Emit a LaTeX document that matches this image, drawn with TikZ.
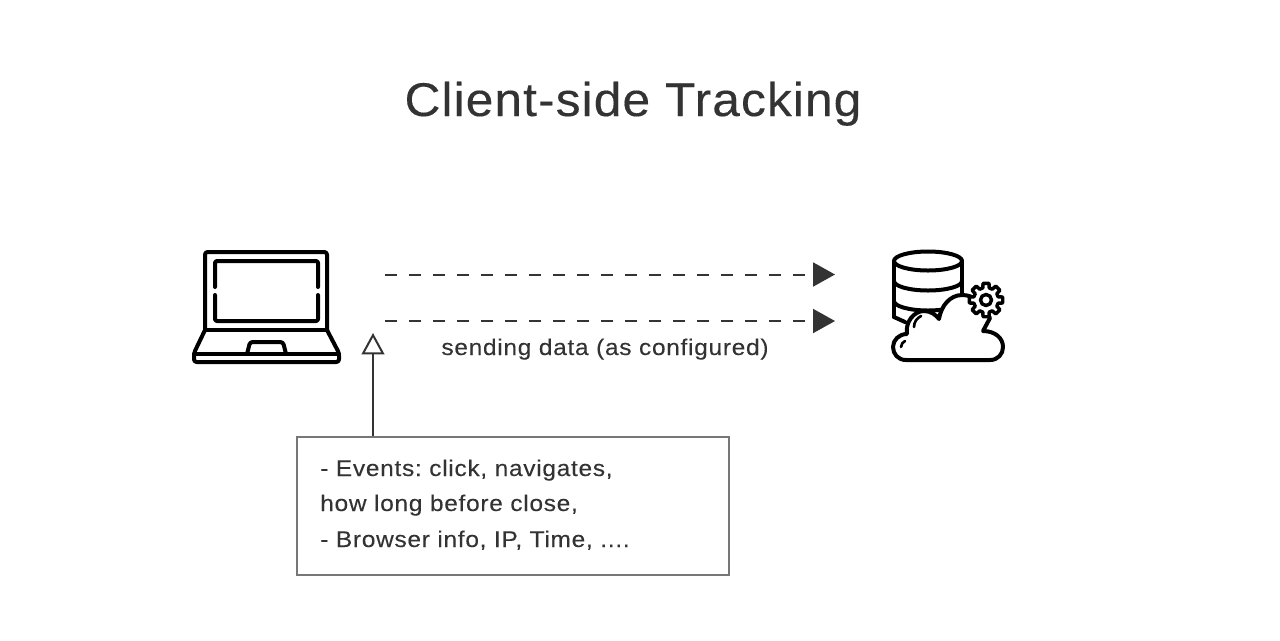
\documentclass[tikz,border=0pt]{standalone}
\usepackage{fontspec}
\setmainfont{Liberation Sans}
\newfontfamily\titlefont[FakeStretch=1.05,LetterSpace=2.3,FakeBold=0.25]{Liberation Sans}
\newfontfamily\labelfont[FakeStretch=1.08,LetterSpace=3.1,FakeBold=0.15]{Liberation Sans}
\usetikzlibrary{arrows.meta,calc}
\definecolor{ink}{HTML}{333333}
\definecolor{boxgray}{HTML}{777777}
\tikzset{
  icon/.style={draw=black,line width=3pt,line join=round,line cap=round},
  title/.style={text=ink,font=\titlefont\fontsize{35.5pt}{40pt}\selectfont,inner sep=0pt},
  label/.style={text=ink,font=\labelfont\fontsize{17pt}{20pt}\selectfont\frenchspacing,inner sep=0pt},
  flow/.style={draw=ink,line width=1.5pt,dash pattern=on 9pt off 9pt,-{Triangle[length=16.5pt,width=18pt,fill=ink]}},
  openarrow/.style={draw=ink,line width=1.5pt,-{Triangle[open,length=16pt,width=17pt,fill=white]}},
  notebox/.style={draw=boxgray,line width=1.5pt,fill=white,minimum width=324pt,minimum height=103.5pt,inner sep=0pt},
}
\begin{document}
\begin{tikzpicture}[x=0.75pt,y=-0.75pt]
\useasboundingbox (0,0) rectangle (1280,640);
\fill[white] (0,0) rectangle (1280,640);
\node[title,anchor=base] (ttl) at (633,116) {Client-side Tracking};
% laptop
\draw[icon,rounded corners=2pt] (205,330) -- (205,252) -- (327,252) -- (327,330);
\draw[icon,rounded corners=1.5pt] (215,287) -- (215,261) -- (318,261) -- (318,287);
\draw[icon,rounded corners=1.5pt] (215,295) -- (215,321) -- (318,321) -- (318,295);
\draw[icon] (205,330) -- (327,330);
\draw[icon,rounded corners=2pt] (205,330) -- (194,353) -- (194,362) -- (339,362) -- (339,353) -- (327,330);
\draw[icon] (194,354) -- (339,354);
\draw[icon,rounded corners=2pt] (247,354) -- (250,342) -- (283,342) -- (286,354);
% database
\draw[icon] (894,261) arc[start angle=180,end angle=-180,x radius=34,y radius=9.5];
\draw[icon] (894,261) -- (894,317);
\draw[icon] (962,261) -- (962,300);
\draw[icon] (894,281) arc[start angle=180,end angle=0,x radius=34,y radius=9.5];
\draw[icon] (894,301) arc[start angle=180,end angle=40,x radius=34,y radius=9.5];
\draw[icon] (894,317) -- (905,322);
% cloud
\draw[icon,fill=white] (906,360)
  .. controls (898,360) and (893,354) .. (893,347)
  .. controls (893,340) and (899,334) .. (907,334)
  .. controls (905,322) and (914,311) .. (924,311)
  .. controls (931,311) and (936,315) .. (939,319)
  .. controls (941,306) and (950,295) .. (962,295)
  .. controls (968,295) and (974,297) .. (978,301)
  -- (990,318) -- (983,331)
  .. controls (995,331) and (1003,338) .. (1003,347)
  .. controls (1003,354) and (998,360) .. (990,360) -- cycle;
\draw[icon,line width=2pt] (914,327) .. controls (914,322) and (917,318) .. (921,316);
\draw[icon,line width=2pt] (901,347) .. controls (901,344) and (903,342) .. (905,341);
% gear
\coordinate (gc) at (986,300);
\draw[icon,fill=white,line width=2.6pt] ($(gc)+(-10:17)$)
  \foreach \a in {0,45,...,315} { -- ($(gc)+(\a-10:17)$) -- ($(gc)+(\a+10:17)$) -- ($(gc)+(\a+15:12.5)$) -- ($(gc)+(\a+30:12.5)$) } -- cycle;
\draw[icon,line width=2.6pt] (gc) circle[radius=5.5];
% anchors
\coordinate (lapA) at (385,274.5);
\coordinate (lapB) at (385,321);
\coordinate (dbA) at (835,274.5);
\coordinate (dbB) at (835,321);
\coordinate (lapC) at (373,333);
\draw[flow] (lapA) -- (dbA);
\draw[flow] (lapB) -- (dbB);
\node[label,anchor=base] (lbl) at (605,355) {sending data (as configured)};
\node[notebox] (note) at (513,506) {};
\draw[openarrow] (note.north -| lapC) -- (lapC);
\node[label,anchor=base west] (n1) at (320,476) {- Events: click, navigates,};
\node[label,anchor=base west] (n2) at (320,511) {how long before close,};
\node[label,anchor=base west] (n3) at (320,547) {- Browser info, IP, Time, ....};
\end{tikzpicture}
\end{document}
